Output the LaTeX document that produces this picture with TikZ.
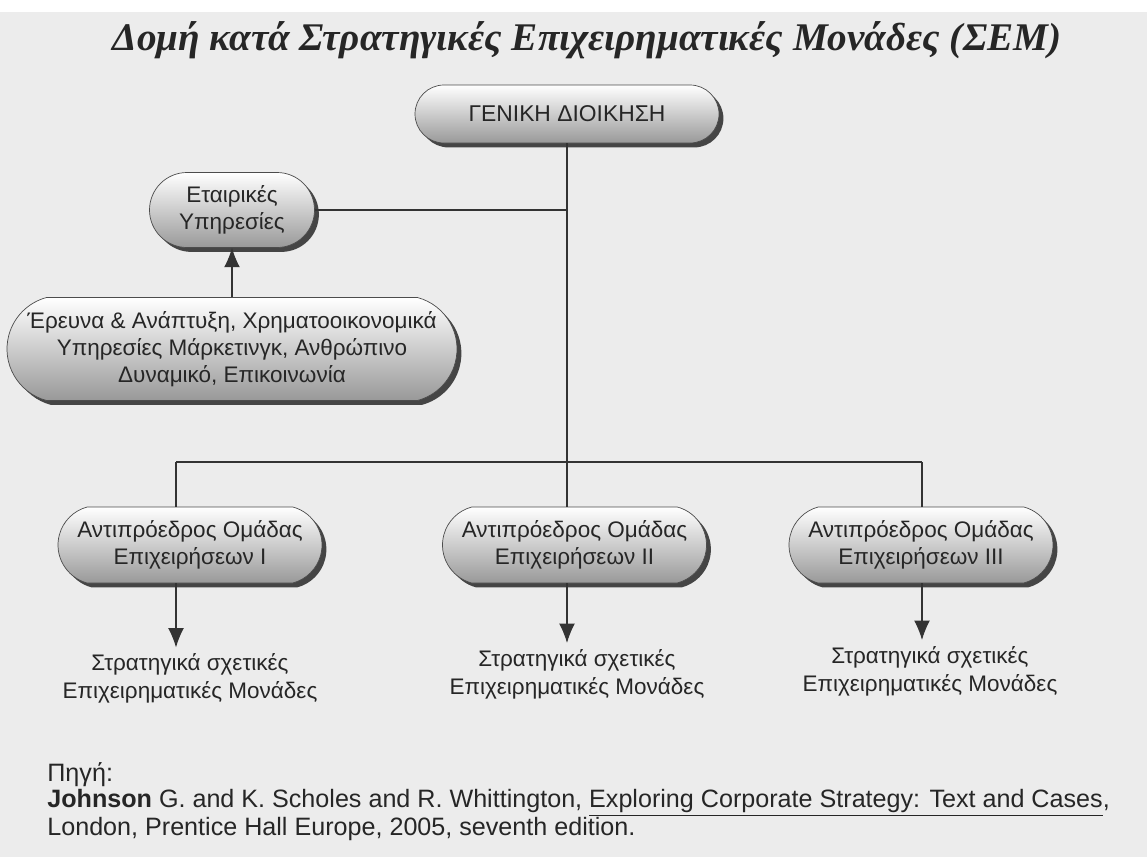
\documentclass[tikz,border=0pt]{standalone}
\usepackage{fontspec}
\setmainfont{Liberation Sans}
\newfontfamily\titlefont{Liberation Serif}
\usetikzlibrary{shapes.misc,shadows,arrows.meta}
\definecolor{paper}{RGB}{236,236,236}
\tikzset{
    pill/.style={rounded rectangle, draw=black!70, thin, top color=white, middle color=black!10, bottom color=black!40,
        drop shadow={shadow xshift=2.5pt, shadow yshift=-2.5pt, fill=black!80, opacity=.9},
        align=center, inner sep=0pt, text=black!85, font=\fontsize{12.8}{15.5}\selectfont},
    link/.style={semithick, black!80},
    sbu/.style={align=center, text=black!85, font=\fontsize{12.8}{16}\selectfont},
}
\begin{document}
\begin{tikzpicture}
            \useasboundingbox (0,0) rectangle (22.94,-17.14);
            \fill[white] (0,0) rectangle (22.94,-17.14);
            \fill[paper] (0,-0.24) rectangle (22.94,-17.14);
            \node (title) at (11.74,-0.8) {\titlefont\bfseries\itshape\fontsize{22.3}{26}\selectfont\color{black!85}Δομή κατά Στρατηγικές Επιχειρηματικές Μονάδες (ΣΕΜ)};
            \coordinate (hub) at (11.34,-9.24);
            \coordinate (b1) at (3.52,-9.24);
            \coordinate (b3) at (18.44,-9.24);
            \node[pill, minimum width=6.08cm, minimum height=1.16cm, font=\fontsize{13}{16}\selectfont] (gen) at (11.34,-2.28) {ΓΕΝΙΚΗ ΔΙΟΙΚΗΣΗ};
            \node[pill, minimum width=3.3cm, minimum height=1.5cm] (corp) at (4.64,-4.2) {Εταιρικές\\Υπηρεσίες};
            \node[pill, rounded rectangle arc length=150, minimum width=9.0cm, minimum height=2.06cm] (funcs) at (4.64,-6.98) {Έρευνα \& Ανάπτυξη, Χρηματοοικονομικά\\Υπηρεσίες Μάρκετινγκ, Ανθρώπινο\\Δυναμικό, Επικοινωνία};
            \node[pill, rounded rectangle arc length=150, minimum width=5.28cm, minimum height=1.52cm] (vp1) at (3.8,-10.9) {Αντιπρόεδρος Ομάδας\\Επιχειρήσεων I};
            \node[pill, rounded rectangle arc length=150, minimum width=5.28cm, minimum height=1.52cm] (vp2) at (11.49,-10.9) {Αντιπρόεδρος Ομάδας\\Επιχειρήσεων II};
            \node[pill, rounded rectangle arc length=150, minimum width=5.28cm, minimum height=1.52cm] (vp3) at (18.42,-10.9) {Αντιπρόεδρος Ομάδας\\Επιχειρήσεων III};
            \node[sbu] (sbu1) at (3.8,-13.57) {Στρατηγικά σχετικές\\Επιχειρηματικές Μονάδες};
            \node[sbu] (sbu2) at (11.54,-13.48) {Στρατηγικά σχετικές\\Επιχειρηματικές Μονάδες};
            \node[sbu] (sbu3) at (18.6,-13.42) {Στρατηγικά σχετικές\\Επιχειρηματικές Μονάδες};
            \draw[link] (gen.south -| hub) -- (vp2.north -| hub);
            \draw[link] (corp.east) -- (corp.east -| hub);
            \draw[link, thick] (b1) -- (b3);
            \draw[link] (b1) -- (vp1.north -| b1);
            \draw[link] (b3) -- (vp3.north -| b3);
            \draw[link, -{Latex[length=11pt, width=9pt]}] (funcs.north -| corp) -- (corp.south);
            \draw[link, -{Latex[length=11pt, width=9pt]}] (vp1.south -| b1) -- (sbu1.north -| b1);
            \draw[link, -{Latex[length=11pt, width=9pt]}] (vp2.south -| hub) -- (sbu2.north -| hub);
            \draw[link, -{Latex[length=11pt, width=9pt]}] (vp3.south -| b3) -- (sbu3.north -| b3);
            \begin{scope}[every node/.style={anchor=west, inner sep=0pt, text=black!85, font=\fontsize{14.3}{16}\selectfont}]
            \node (src) at (0.94,-15.5) {Πηγή:};
            \node (ref1) at (0.94,-16.06) {\textbf{Johnson} G. and K. Scholes and R. Whittington, \underline{Exploring Corporate Strategy: Text and Cases},};
            \node (ref2) at (0.94,-16.58) {London, Prentice Hall Europe, 2005, seventh edition.};
            \end{scope}
        \end{tikzpicture}
\end{document}
